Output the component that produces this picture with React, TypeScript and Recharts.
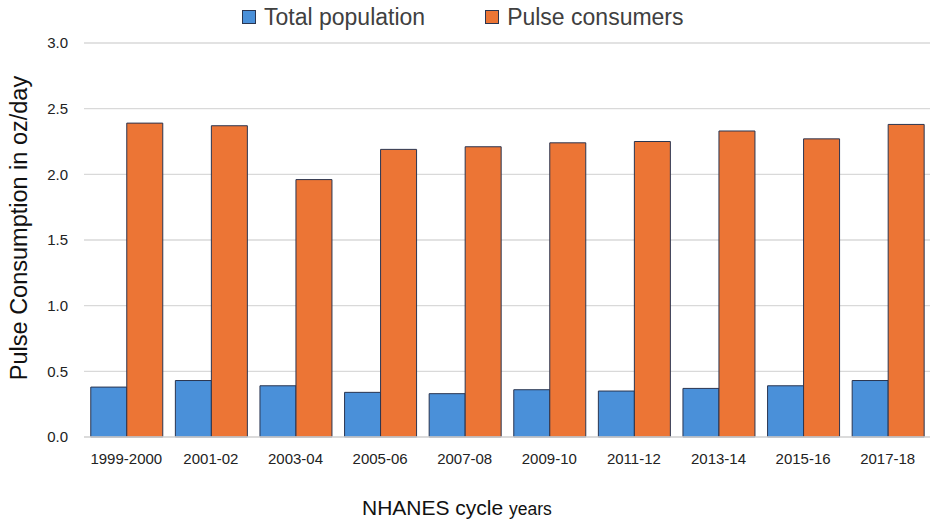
import { BarChart, Bar, XAxis, YAxis, CartesianGrid } from "recharts";

const cycles = [
  "1999-2000",
  "2001-02",
  "2003-04",
  "2005-06",
  "2007-08",
  "2009-10",
  "2011-12",
  "2013-14",
  "2015-16",
  "2017-18",
];
const totalPopulation = [0.38, 0.43, 0.39, 0.34, 0.33, 0.36, 0.35, 0.37, 0.39, 0.43];
const pulseConsumers = [2.39, 2.37, 1.96, 2.19, 2.21, 2.24, 2.25, 2.33, 2.27, 2.38];
const yTicks = [0, 0.5, 1.0, 1.5, 2.0, 2.5, 3.0];
const seriesNames = ["Total population", "Pulse consumers"];
const seriesColors = ["#4a90d9", "#ec7535"];

const data = cycles.map((cycle, i) => ({
  cycle,
  total: totalPopulation[i],
  consumers: pulseConsumers[i],
}));

const FONT = "'Liberation Sans', Arial, sans-serif";
const EDGE = "#2a3550";

function YTitle() {
  return (
    <text
      x={27}
      y={228}
      transform="rotate(-90, 27, 228)"
      textAnchor="middle"
      fontSize={23.5}
      fontFamily={FONT}
      fill="#111"
    >
      Pulse Consumption in oz/day
    </text>
  );
}

function XTitle() {
  return (
    <text x={362} y={515} fontFamily={FONT} fill="#111">
      <tspan fontSize={21}>NHANES cycle </tspan>
      <tspan fontSize={17.5}>years</tspan>
    </text>
  );
}

export default function App() {
  return (
    <div
      style={{
        position: "absolute",
        left: 0,
        top: 0,
        width: 935,
        height: 521,
        background: "#fff",
        fontFamily: FONT,
      }}
    >
      <div
        style={{
          position: "absolute",
          left: 242,
          top: 4,
          display: "flex",
          gap: 60,
          color: "#404040",
          fontSize: 23,
          lineHeight: "26px",
        }}
      >
        {seriesNames.map((name, i) => (
          <div key={name} style={{ display: "flex", alignItems: "center" }}>
            <span
              style={{
                display: "inline-block",
                width: 12,
                height: 12,
                background: seriesColors[i],
                border: `1px solid ${EDGE}`,
                marginRight: 8,
              }}
            />
            <span>{name}</span>
          </div>
        ))}
      </div>
      <BarChart
        width={935}
        height={521}
        data={data}
        margin={{ top: 43, right: 5, left: 0, bottom: 0 }}
        barCategoryGap="8%"
        barGap={0}
      >
        <CartesianGrid vertical={false} stroke="#d9d9d9" strokeWidth={1.3} />
        <XAxis
          dataKey="cycle"
          height={84}
          tickLine={false}
          axisLine={{ stroke: "#d9d9d9", strokeWidth: 1.3 }}
          tickMargin={10}
          tick={{ fontSize: 15, fill: "#222", fontFamily: FONT }}
          interval={0}
          label={<XTitle />}
        />
        <YAxis
          width={84}
          domain={[0, 3]}
          ticks={yTicks}
          tickFormatter={(v: number) => v.toFixed(1)}
          tickLine={false}
          axisLine={false}
          tickMargin={10}
          tick={{ fontSize: 15, fill: "#222", fontFamily: FONT }}
          label={<YTitle />}
        />
        <Bar
          dataKey="total"
          name={seriesNames[0]}
          fill={seriesColors[0]}
          stroke={EDGE}
          strokeWidth={1}
          isAnimationActive={false}
        />
        <Bar
          dataKey="consumers"
          name={seriesNames[1]}
          fill={seriesColors[1]}
          stroke={EDGE}
          strokeWidth={1}
          isAnimationActive={false}
        />
      </BarChart>
    </div>
  );
}
